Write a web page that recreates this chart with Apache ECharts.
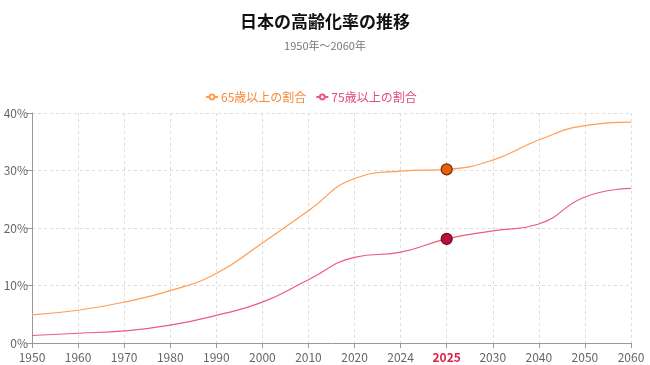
<!DOCTYPE html>
<html><head><meta charset="utf-8">
<script src="https://cdn.jsdelivr.net/npm/echarts@6/dist/echarts.min.js"></script>
<style>html,body{margin:0;padding:0;background:#fff}#c{width:650px;height:365px}</style>
</head><body><div id="c"></div>
<script>
const years = ['1950','1960','1970','1980','1990','2000','2010','2020','2024','2025','2030','2040','2050','2060'];
const rate65 = [4.9, 5.7, 7.1, 9.1, 12.1, 17.4, 23.0, 28.6, 29.9, 30.2, 31.8, 35.3, 37.8, 38.4];
const rate75 = [1.3, 1.7, 2.1, 3.1, 4.8, 7.1, 11.0, 14.9, 15.8, 18.1, 19.5, 20.7, 25.4, 26.9];
const yTicks = [0, 10, 20, 30, 40];
const highlightYear = '2025';
const hi = years.indexOf(highlightYear);
const font = '"Noto Sans CJK JP", "Noto Sans", sans-serif';

function mkData(arr, color, border) {
  return arr.map((v, i) => i === hi ? {value: v, symbol: 'circle', symbolSize: 11,
    itemStyle: {color: color, borderColor: border, borderWidth: 1.2}} : {value: v, symbol: 'none'});
}

const chart = echarts.init(document.getElementById('c'), null, {renderer: 'canvas'});
chart.setOption({
  animation: false,
  textStyle: {fontFamily: font},
  title: {
    text: '日本の高齢化率の推移', subtext: '1950年〜2060年', left: 'center', top: 8,
    textStyle: {fontSize: 17, fontWeight: 'bold', color: '#111', fontFamily: font},
    subtextStyle: {fontSize: 11, color: '#777', fontFamily: font}, itemGap: 10
  },
  legend: {
    top: 86, left: 200, itemWidth: 12, itemHeight: 6, itemGap: 9,
    textStyle: {fontSize: 12, fontFamily: font, padding: [0, 0, 0, -2]},
    data: [
      {name: '65歳以上の割合', textStyle: {color: '#f58a3a'}},
      {name: '75歳以上の割合', textStyle: {color: '#e04e78'}}
    ]
  },
  grid: {left: 32, right: 19, top: 113, bottom: 22},
  xAxis: {
    type: 'category', boundaryGap: false,
    data: years.map(y => y === highlightYear ? {value: y, textStyle: {color: '#e0204a', fontWeight: 'bold'}} : y),
    axisLine: {lineStyle: {color: '#999'}},
    axisTick: {show: true, alignWithLabel: true, lineStyle: {color: '#999'}},
    axisLabel: {color: '#666', fontSize: 12, margin: 8, interval: 0},
    splitLine: {show: true, lineStyle: {color: '#ddd', type: [3, 3]}}
  },
  yAxis: {
    type: 'value', min: yTicks[0], max: yTicks[yTicks.length - 1], interval: 10,
    axisLine: {show: true, lineStyle: {color: '#999'}},
    axisTick: {show: true, lineStyle: {color: '#999'}},
    axisLabel: {color: '#666', fontSize: 12, margin: 4, formatter: '{value}%'},
    splitLine: {show: true, lineStyle: {color: '#ddd', type: [3, 3]}}
  },
  series: [
    {name: '65歳以上の割合', type: 'line', smooth: true, symbol: 'emptyCircle', showSymbol: true,
     lineStyle: {color: '#ff9d52', width: 1.2}, itemStyle: {color: '#ff9d52'},
     data: mkData(rate65, '#e8600c', '#7a2d06')},
    {name: '75歳以上の割合', type: 'line', smooth: true, symbol: 'emptyCircle', showSymbol: true,
     lineStyle: {color: '#ec5a80', width: 1.2}, itemStyle: {color: '#ec5a80'},
     data: mkData(rate75, '#b8103a', '#6e0a22')}
  ]
});
</script></body></html>
